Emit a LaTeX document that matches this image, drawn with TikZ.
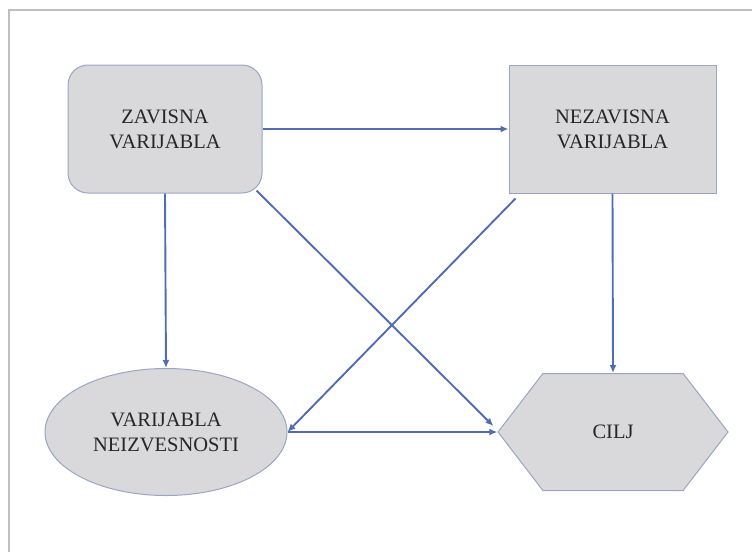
\documentclass[tikz,border=0pt]{standalone}
\usepackage{fontspec}
\setmainfont{Liberation Serif}
\usetikzlibrary{shapes.geometric,shapes.symbols,arrows.meta,calc}

\definecolor{linkblue}{HTML}{4F6DB0}
\definecolor{boxfill}{HTML}{D9D9DB}
\definecolor{boxedge}{HTML}{9AA5C6}
\definecolor{framegray}{HTML}{BEBEBE}

\tikzset{
  varbox/.style={draw=boxedge, line width=1pt, fill=boxfill,
    align=center, font=\fontsize{20.5}{25}\selectfont, text=black!85, inner sep=0pt},
  link/.style={draw=linkblue, line width=1.9pt,
    -{Latex[length=8pt,width=7pt]}},
}

\begin{document}
\begin{tikzpicture}[x=1pt,y=-1pt]
  \useasboundingbox (0,0) rectangle (752,552);

  % outer frame (left and top edges)
  \draw[framegray, line width=2pt] (8.5,552) -- (8.5,10) -- (752,10);

  % variables
  \node[varbox, rounded corners=20pt, minimum width=194pt, minimum height=128pt]
    (zav) at (165,129) {ZAVISNA\\VARIJABLA};
  \node[varbox, minimum width=207pt, minimum height=128pt]
    (nez) at (612.5,129) {NEZAVISNA\\VARIJABLA};
  \node[varbox, ellipse, minimum width=242pt, minimum height=127pt]
    (neiz) at (166,432) {VARIJABLA\\NEIZVESNOSTI};
  \node[varbox, signal, signal to=west and east, signal pointer angle=105,
        minimum width=230pt, minimum height=117pt]
    (cilj) at (613,432) {CILJ};

  % connections
  \draw[link] (zav.east) -- (nez.west);
  \draw[link] (zav.south) -- (neiz.north);
  \draw[link] ([shift={(-6,-3)}]zav.south east) -- ([shift={(-4,-6)}]cilj.west);
  \draw[link] ([shift={(7,5)}]nez.south west) -- (neiz.east);
  \draw[link] (nez.south) -- (cilj.north);
  \draw[link] (neiz.east) -- (cilj.west);
\end{tikzpicture}
\end{document}
